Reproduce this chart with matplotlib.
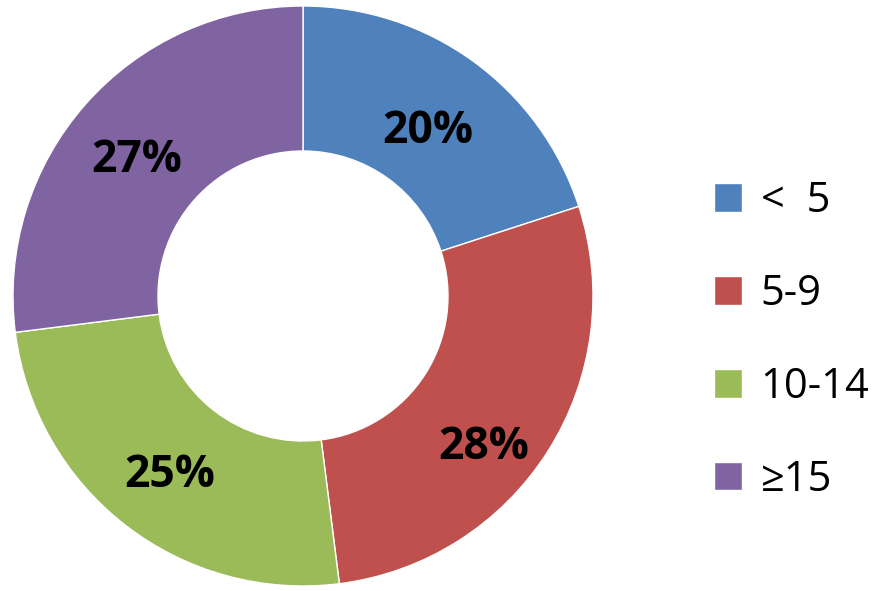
import matplotlib
matplotlib.use("Agg")
import matplotlib.pyplot as plt

# age groups and their shares (%)
categories = ["<  5", "5-9", "10-14", "\u226515"]
shares = [20, 28, 25, 27]
colors = ["#4F81BD", "#C0504D", "#9BBB59", "#8064A2"]

plt.rcParams["font.family"] = ["Open Sans", "DejaVu Sans"]

fig = plt.figure(figsize=(8.86, 5.91), dpi=100)
ax = fig.add_axes([13 / 886, 5 / 591, 580 / 886, 580 / 591])

wedges, texts, autotexts = ax.pie(
    shares, colors=colors, startangle=90, counterclock=False,
    radius=1.0, autopct="%d%%", pctdistance=0.75,
    wedgeprops=dict(width=0.5, edgecolor="white", linewidth=1),
    textprops=dict(fontsize=32, fontweight="bold", color="black"),
)
# nudge labels a little like the original layout
nudges = [(-0.01, -0.04), (-0.01, -0.12), (0.0, -0.025), (-0.01, -0.03)]
for t, (dx, dy) in zip(autotexts, nudges):
    x, y = t.get_position()
    t.set_position((x + dx, y + dy))

ax.set_xlim(-1, 1)
ax.set_ylim(-1, 1)
ax.set_aspect("equal")

fig.legend(wedges, categories, loc="center left",
           bbox_to_anchor=(676 / 886, 0.424), frameon=False,
           fontsize=30, handlelength=0.68, handleheight=0.68,
           handletextpad=0.45, labelspacing=1.22)

fig.savefig("out.png", dpi=100)
